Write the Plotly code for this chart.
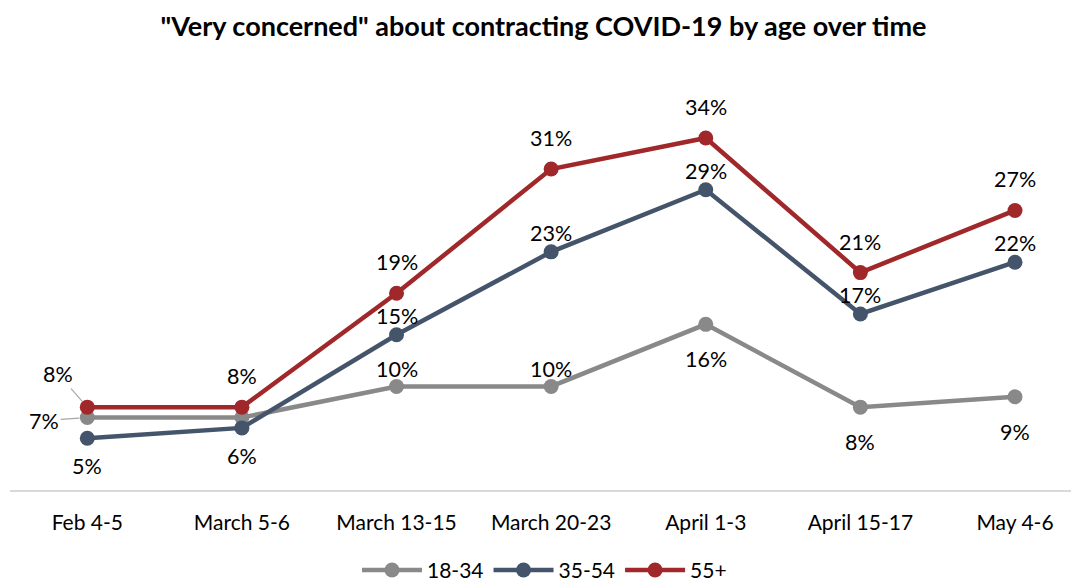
# Imports ======================================================================
import plotly.graph_objects as go

# Data =========================================================================
dates = ['Feb 4-5', 'March 5-6', 'March 13-15', 'March 20-23',
         'April 1-3', 'April 15-17', 'May 4-6']
age_18_34 = [7, 7, 10, 10, 16, 8, 9]
age_35_54 = [5, 6, 15, 23, 29, 17, 22]
age_55_up = [8, 8, 19, 31, 34, 21, 27]

FONT = 'Lato, Noto Sans, sans-serif'

# name, values, colour, label side per point, shift up, shift down
series = [
    ('18-34', age_18_34, '#898989', ['left', None, 'up', 'up', 'down', 'down', 'down'], 17, -35),
    ('35-54', age_35_54, '#44546A', ['down', 'down', 'up', 'up', 'up', 'up', 'up'], 19, -28),
    ('55+', age_55_up, '#A0282A', ['leader', 'up', 'up', 'up', 'up', 'up', 'up'], 31, -31),
]

# Plot =========================================================================
fig = go.Figure()
annotations = []

for name, vals, color, sides, up, down in series:
    fig.add_trace(go.Scatter(
        x=dates, y=vals, name=name, mode='lines+markers',
        line=dict(color=color, width=4.5),
        marker=dict(color=color, size=15),
        hoverinfo='skip',
    ))
    for d, v, side in zip(dates, vals, sides):
        if side is None:
            continue
        txt = f'{v}%'
        if side == 'up':
            annotations.append(dict(x=d, y=v, text=txt, showarrow=False, yshift=up))
        elif side == 'down':
            annotations.append(dict(x=d, y=v, text=txt, showarrow=False, yshift=down))
        elif side == 'left':
            annotations.append(dict(x=d, y=v, text=txt, showarrow=True, arrowhead=0,
                                    arrowwidth=1.2, arrowcolor='#A6A6A6',
                                    ax=-43, ay=3, standoff=8))
        elif side == 'leader':
            annotations.append(dict(x=d, y=v, text=txt, showarrow=True, arrowhead=0,
                                    arrowwidth=1.2, arrowcolor='#A6A6A6',
                                    ax=-29, ay=-33, standoff=8))

for a in annotations:
    a['font'] = dict(family=FONT, size=21.5, color='#000000')

# page has an 8px body margin, so the figure is sized to fit inside it
fig.update_layout(
    width=1071, height=576,
    paper_bgcolor='white', plot_bgcolor='white',
    margin=dict(l=2, r=0, t=72, b=94, autoexpand=False),
    font=dict(family=FONT, size=20, color='#000000'),
    title=dict(text='<b>"Very concerned" about contracting COVID-19 by age over time</b>',
               x=0.5, xanchor='center', y=1 - 19 / 576, yanchor='middle',
               font=dict(family=FONT, size=27, color='#000000')),
    xaxis=dict(range=[-0.5, 6.414], showgrid=False, zeroline=False,
               showline=True, linecolor='#D9D9D9', linewidth=2,
               ticks='', tickfont=dict(family=FONT, size=21), ticklabelstandoff=13),
    yaxis=dict(range=[0, 39.6], visible=False, showgrid=False, zeroline=False),
    legend=dict(orientation='h', x=0.5, xanchor='center', y=-0.196, yanchor='middle',
                font=dict(family=FONT, size=21), itemwidth=60, tracegroupgap=0),
    annotations=annotations,
    showlegend=True,
)

fig.write_html('out.html')
